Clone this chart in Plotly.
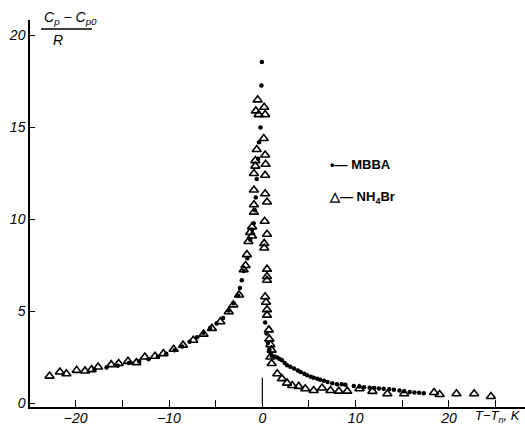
import plotly.graph_objects as go

# ---- data ----
mbba_x = [-0.05, -0.1, -0.2, -0.35, -0.45, -0.6, -0.7, -0.8, -0.93, -1.1, -1.3, -1.6,
          -2.0, -2.2, -2.4, -2.6, -3.1, -3.6, -4.2, -4.9, -5.6, -6.3, -7.0, -7.8,
          -8.6, -9.4, -10.3, -11.2, -12.2, -13.2, -14.3, -15.5, -16.7, -18.0,
          0.3, 0.45, 0.6, 0.75, 0.9, 1.0, 1.3, 1.6, 1.85, 2.1, 2.4, 2.65, 3.0, 3.4,
          3.8, 4.1, 4.5, 4.8, 5.2, 5.5, 5.9, 6.2, 6.6, 7.0, 7.5, 8.0, 8.5, 8.9,
          9.8, 10.4, 10.9, 11.5, 12.0, 12.5, 13.0, 13.6, 14.1, 14.7, 15.2, 15.8,
          16.3, 16.8, 17.3]
mbba_y = [18.56, 17.28, 15.0, 14.2, 13.3, 12.2, 11.2, 10.5, 9.8, 9.45, 8.9, 7.9,
          7.2, 6.7, 6.27, 5.85, 5.45, 5.05, 4.65, 4.35, 4.1, 3.85, 3.6, 3.35,
          3.1, 2.9, 2.7, 2.55, 2.4, 2.3, 2.2, 2.05, 1.95, 1.85,
          4.4, 3.8, 3.3, 2.95, 2.75, 2.6, 2.55, 2.5, 2.42, 2.35, 2.2, 2.08, 2.0, 1.9,
          1.8, 1.71, 1.62, 1.53, 1.46, 1.40, 1.34, 1.29, 1.23, 1.17, 1.1, 1.04, 1.04, 1.02,
          0.95, 0.92, 0.89, 0.86, 0.84, 0.82, 0.80, 0.77, 0.75, 0.71, 0.67, 0.63,
          0.6, 0.58, 0.56]

nh4br_x = [-22.8, -21.7, -21.0, -19.9, -19.0, -18.3, -17.6, -16.2, -15.4, -14.4,
           -13.5, -12.6, -11.5, -10.6, -9.5, -8.5, -7.4, -6.3, -5.4, -4.5, -3.6,
           -3.1, -2.5, -2.0, -1.65, -1.5, -1.3, -1.8,
           -0.5, -0.7, -0.4, -0.6, -0.75, -0.75, -0.9, -0.9, -0.9, -0.9, -1.1, -1.1,
           0.2, 0.3, 0.15, 0.3, 0.35, 0.3, 0.3, 0.5, 0.25, 0.5, 0.2, 0.2, 0.5, 0.5,
           0.5, 0.3, 0.4, 0.5, 0.5, 0.7, 0.75, 0.86, 1.0, 0.86, 1.0, 1.6, 2.1, 2.65,
           3.2, 3.9, 4.6, 5.5, 6.4, 7.3, 8.2, 9.1, 10.4, 11.8, 13.4, 15.2, 18.4,
           19.0, 20.8, 22.7, 24.5]
nh4br_y = [1.49, 1.71, 1.62, 1.80, 1.77, 1.84, 1.98, 2.11, 2.17, 2.29,
           2.22, 2.53, 2.57, 2.71, 2.95, 3.17, 3.44, 3.77, 4.08, 4.44, 4.99,
           5.36, 5.90, 7.27, 8.09, 8.8, 9.3, 7.5,
           16.5, 15.9, 15.7, 13.8, 13.2, 12.9, 12.5, 11.6, 10.8, 10.4, 9.6, 9.1,
           16.1, 15.7, 14.4, 13.5, 13.0, 12.4, 11.4, 10.95, 9.9, 9.2, 8.7, 8.45, 7.3, 6.9,
           6.7, 5.8, 5.5, 5.1, 4.8, 4.0, 3.5, 3.2, 2.9, 2.53, 2.17, 1.62, 1.35, 1.11,
           0.98, 0.93, 0.80, 0.71, 0.84, 0.71, 0.67, 0.67, 0.80, 0.66, 0.53, 0.53, 0.6,
           0.49, 0.53, 0.53, 0.38]

x_tickvals = [-20, -10, 0, 10, 20]
y_tickvals = [0, 5, 10, 15, 20]
zero_line_x = [0, 0]
zero_line_y = [0, 1.4]

FONT = "Liberation Sans"

# plot area in pixels
L, R, T, B = 30, 525, 20, 407
W, H = R - L, B - T


def px(x):
    return (x - L) / W


def py(y):
    return (B - y) / H


fig = go.Figure()
fig.add_trace(go.Scatter(x=zero_line_x, y=zero_line_y, mode="lines",
                         line=dict(color="black", width=1.2), showlegend=False,
                         hoverinfo="skip"))
fig.add_trace(go.Scatter(x=mbba_x, y=mbba_y, mode="markers", name="MBBA",
                         showlegend=False,
                         marker=dict(symbol="circle", size=4.5, color="black")))
fig.add_trace(go.Scatter(x=nh4br_x, y=nh4br_y, mode="markers", name="NH4Br",
                         showlegend=False,
                         marker=dict(symbol="triangle-up-open", size=8, color="black",
                                     line=dict(width=1.6, color="black"))))

ann = [
    dict(x=px(42), y=py(18), xanchor="left", yanchor="middle",
         text="C<sub>p</sub> − C<sub>p0</sub>",
         font=dict(family=FONT, size=14, style="italic")),
    dict(x=px(58), y=py(40), xanchor="center", yanchor="middle",
         text="R", font=dict(family=FONT, size=14, style="italic")),
    dict(x=px(473), y=py(417), xanchor="left", yanchor="middle",
         text="T−T<sub>n</sub>, K", font=dict(family=FONT, size=13, style="italic")),
    dict(x=px(328), y=py(165), xanchor="left", yanchor="middle",
         text="<b>•— MBBA</b>", font=dict(family=FONT, size=13)),
    dict(x=px(327), y=py(197), xanchor="left", yanchor="middle",
         text="<b>△— NH<sub>4</sub>Br</b>", font=dict(family=FONT, size=13)),
]
for a in ann:
    a.update(xref="paper", yref="paper", showarrow=False)

fig.update_layout(
    width=525, height=425,
    margin=dict(l=L, r=525 - R, t=T, b=425 - B),
    paper_bgcolor="white", plot_bgcolor="white",
    font=dict(family=FONT, color="black"),
    showlegend=False,
    xaxis=dict(range=[-24.9, 28.15], tickvals=x_tickvals, ticks="inside", ticklen=7,
               showline=True, linecolor="black", linewidth=1.5, showgrid=False,
               zeroline=False, tickcolor="black", automargin=False,
               ticklabelstandoff=-3,
               minor=dict(dtick=5, tick0=0, ticks="inside", ticklen=7, tickcolor="black"),
               tickfont=dict(family=FONT, size=14, style="italic")),
    yaxis=dict(range=[-0.19, 20.84], tickvals=y_tickvals, ticks="inside", ticklen=5,
               showline=True, linecolor="black", linewidth=1.5, showgrid=False,
               zeroline=False, tickcolor="black", automargin=False,
               tickfont=dict(family=FONT, size=14, style="italic")),
    annotations=ann,
    shapes=[dict(type="line", xref="paper", yref="paper",
                 x0=px(41), x1=px(92), y0=py(29), y1=py(29),
                 line=dict(color="black", width=1.5))],
)

fig.write_html("out.html", config={"displayModeBar": False},
               post_script="document.body.style.margin='0';"
                           "document.documentElement.style.overflow='hidden';")
